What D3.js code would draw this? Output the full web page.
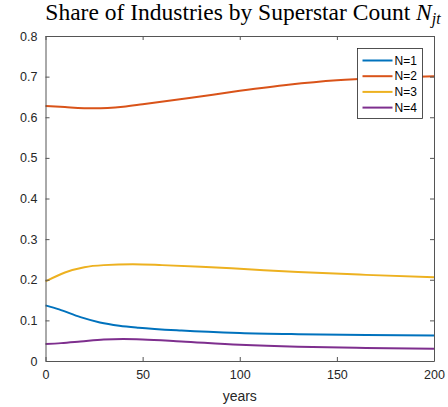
<!DOCTYPE html>
<html>
<head>
<meta charset="utf-8">
<script src="https://cdn.jsdelivr.net/npm/d3@7"></script>
<style>
  body { margin: 0; background: #fff; }
  svg { display: block; }
</style>
</head>
<body>
<svg id="chart"></svg>
<script>
// data
const years1 = [0, 7, 18, 28, 38, 48, 70, 100, 130, 165, 200];
const share1 = [0.137, 0.127, 0.108, 0.095, 0.087, 0.082, 0.075, 0.069, 0.066, 0.064, 0.063];
const years2 = [0, 10, 25, 40, 50, 75, 100, 125, 150, 175, 200];
const share2 = [0.628, 0.625, 0.622, 0.626, 0.632, 0.648, 0.665, 0.680, 0.691, 0.697, 0.701];
const years3 = [0, 10, 20, 30, 45, 60, 80, 100, 130, 165, 200];
const share3 = [0.196, 0.218, 0.231, 0.236, 0.238, 0.236, 0.232, 0.227, 0.219, 0.212, 0.206];
const years4 = [0, 8, 18, 30, 40, 50, 70, 100, 130, 165, 200];
const share4 = [0.042, 0.044, 0.048, 0.053, 0.054, 0.053, 0.048, 0.040, 0.035, 0.032, 0.030];
const seriesNames = ['N=1', 'N=2', 'N=3', 'N=4'];
const colors = ['#0072BD', '#D95319', '#EDB120', '#7E2F8E'];
const xTicks = [0, 50, 100, 150, 200];
const yTicks = [0, 0.1, 0.2, 0.3, 0.4, 0.5, 0.6, 0.7, 0.8];

const series = [
  years1.map((y, i) => [y, share1[i]]),
  years2.map((y, i) => [y, share2[i]]),
  years3.map((y, i) => [y, share3[i]]),
  years4.map((y, i) => [y, share4[i]])
];

const W = 448, H = 407;
const m = { left: 45.5, right: 14, top: 36, bottom: 46 };
const axisColor = '#262626';

const svg = d3.select('#chart')
  .attr('width', W)
  .attr('height', H)
  .style('font-family', '"Liberation Sans", Arial, sans-serif');

const x = d3.scaleLinear().domain([0, 200]).range([m.left, W - m.right]);
const y = d3.scaleLinear().domain([0, 0.8]).range([H - m.bottom, m.top]);

const line = d3.line()
  .x(d => x(d[0]))
  .y(d => y(d[1]))
  .curve(d3.curveMonotoneX);

svg.selectAll('.series')
  .data(series)
  .join('path')
  .attr('class', 'series')
  .attr('d', line)
  .attr('fill', 'none')
  .attr('stroke', (d, i) => colors[i])
  .attr('stroke-width', 2);

// axes, ticks inward like matlab
const styleAxis = g => {
  g.select('.domain').attr('stroke', '#555');
  g.selectAll('.tick line').attr('stroke', '#555');
  g.selectAll('.tick text').attr('fill', axisColor).style('font-size', '12.5px');
};

svg.append('g')
  .attr('transform', `translate(0,${H - m.bottom})`)
  .call(d3.axisBottom(x).tickValues(xTicks).tickSizeInner(-4).tickSizeOuter(0).tickPadding(9))
  .call(styleAxis);
svg.append('g')
  .attr('transform', `translate(0,${m.top})`)
  .call(d3.axisTop(x).tickValues(xTicks).tickSizeInner(-4).tickSizeOuter(0).tickFormat(''))
  .call(styleAxis);
svg.append('g')
  .attr('transform', `translate(${m.left},0)`)
  .call(d3.axisLeft(y).tickValues(yTicks).tickSizeInner(-4).tickSizeOuter(0).tickPadding(8).tickFormat(d3.format('')))
  .call(styleAxis);
svg.append('g')
  .attr('transform', `translate(${W - m.right},0)`)
  .call(d3.axisRight(y).tickValues(yTicks).tickSizeInner(-4).tickSizeOuter(0).tickFormat(''))
  .call(styleAxis);

svg.append('text')
  .attr('x', (x(0) + x(200)) / 2)
  .attr('y', H - 6)
  .attr('text-anchor', 'middle')
  .attr('fill', axisColor)
  .style('font-size', '14px')
  .text('years');

// title
const title = svg.append('text')
  .attr('x', 243)
  .attr('y', 20)
  .attr('text-anchor', 'middle')
  .attr('fill', '#000')
  .style('font-family', '"Liberation Serif", "Times New Roman", serif')
  .style('font-size', '23.5px')
  .text('Share of Industries by Superstar Count ');
title.append('tspan')
  .style('font-style', 'italic')
  .text('N');
title.append('tspan')
  .attr('dy', 4)
  .style('font-style', 'italic')
  .style('font-size', '16px')
  .text('jt');

// legend
const lg = svg.append('g').attr('transform', 'translate(357.5,48.5)');
lg.append('rect')
  .attr('width', 65)
  .attr('height', 70)
  .attr('fill', '#fff')
  .attr('stroke', axisColor)
  .attr('stroke-width', 0.8);
const items = lg.selectAll('.item')
  .data(seriesNames)
  .join('g')
  .attr('class', 'item')
  .attr('transform', (d, i) => `translate(0,${12 + i * 15.7})`);
items.append('line')
  .attr('x1', 5).attr('x2', 35)
  .attr('stroke', (d, i) => colors[i])
  .attr('stroke-width', 2);
items.append('text')
  .attr('x', 37)
  .attr('dy', '0.35em')
  .attr('fill', '#000')
  .style('font-size', '12px')
  .text(d => d);
</script>
</body>
</html>
